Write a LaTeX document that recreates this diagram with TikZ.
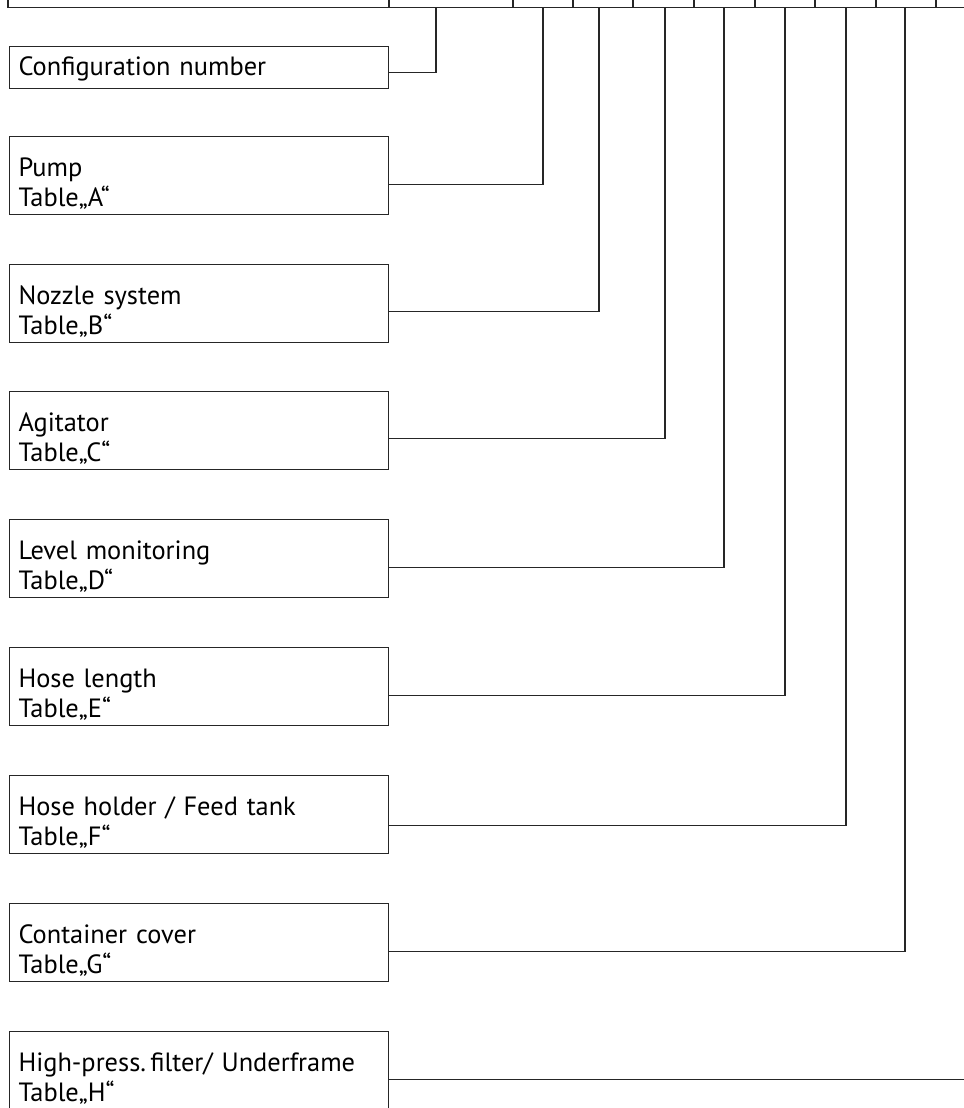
\documentclass[tikz,border=0pt]{standalone}
\usepackage{fontspec}
\setmainfont{PT Sans}
\begin{document}
\begin{tikzpicture}[x=0.75pt,y=-0.75pt,
  wire/.style={draw=black!85,line width=0.8pt},
  box/.style={wire,anchor=north west,text width=270.75pt,inner xsep=6.75pt,
    inner ysep=0pt,align=left,text height=30pt,text depth=28.5pt,
    font=\fontsize{19.8}{22.5}\selectfont}]
\useasboundingbox (0,0) rectangle (964,1108);
\clip (0,0) rectangle (964,1108);
% header row
\draw[wire] (8,0) -- (8,7.5) -- (1000,7.5);
\foreach \x in {389,513,573,633,694,755,815,876,936,996}
  \draw[wire] (\x,0) -- (\x,7.5);
\coordinate (tN) at (436,7.5);
\coordinate (tA) at (543,7.5);
\coordinate (tB) at (599,7.5);
\coordinate (tC) at (665,7.5);
\coordinate (tD) at (724,7.5);
\coordinate (tE) at (785,7.5);
\coordinate (tF) at (846,7.5);
\coordinate (tG) at (905,7.5);
\coordinate (tH) at (966,7.5);
% boxes
\node[box,text height=22pt,text depth=9.5pt] (cfg) at (9,46) {Configuration number};
\node[box] (pump) at (9,136) {Pump\\Table„A“};
\node[box] (nozzle) at (9,264) {Nozzle system\\Table„B“};
\node[box] (agit) at (9,391) {Agitator\\Table„C“};
\node[box] (level) at (9,519) {Level monitoring\\Table„D“};
\node[box] (hose) at (9,647) {Hose length\\Table„E“};
\node[box] (holder) at (9,775) {Hose holder / Feed tank\\Table„F“};
\node[box] (cover) at (9,903) {Container cover\\Table„G“};
\node[box] (filter) at (9,1031) {High-press.\,filter/ Underframe\\Table„H“};
% connectors
\draw[wire] ([yshift=-3.75pt]cfg.east) -| (tN);
\draw[wire] ([yshift=-7pt]pump.east) -| (tA);
\draw[wire] ([yshift=-6pt]nozzle.east) -| (tB);
\draw[wire] ([yshift=-6pt]agit.east) -| (tC);
\draw[wire] ([yshift=-7pt]level.east) -| (tD);
\draw[wire] ([yshift=-7pt]hose.east) -| (tE);
\draw[wire] ([yshift=-8pt]holder.east) -| (tF);
\draw[wire] ([yshift=-7pt]cover.east) -| (tG);
\draw[wire] ([yshift=-7pt]filter.east) -| (tH);
\end{tikzpicture}
\end{document}
